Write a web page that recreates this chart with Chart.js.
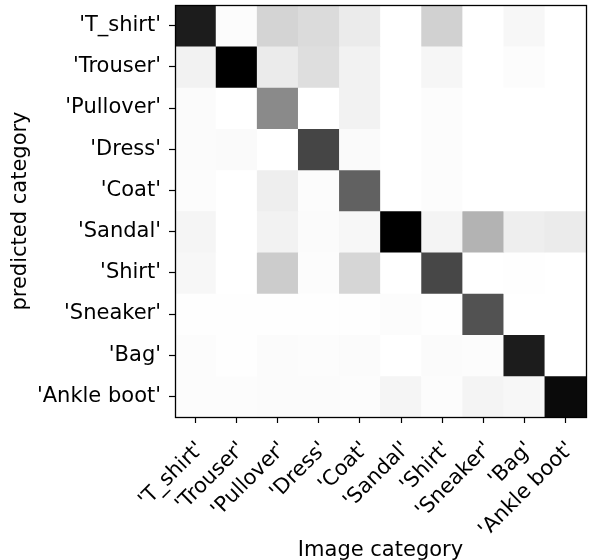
<!DOCTYPE html>
<html>
<head>
<meta charset="utf-8">
<script src="https://cdn.jsdelivr.net/npm/chart.js@4.4.1/dist/chart.umd.min.js"></script>
<style>
  html, body { margin: 0; padding: 0; background: #fff; }
  #wrap { width: 589px; height: 560px; position: relative; }
</style>
</head>
<body>
<div id="wrap"><canvas id="cm"></canvas></div>
<script>
// categories (columns = true image category, rows = predicted category)
const imageCategories = ["'T_shirt'", "'Trouser'", "'Pullover'", "'Dress'", "'Coat'", "'Sandal'", "'Shirt'", "'Sneaker'", "'Bag'", "'Ankle boot'"];
const predictedCategories = ["'T_shirt'", "'Trouser'", "'Pullover'", "'Dress'", "'Coat'", "'Sandal'", "'Shirt'", "'Sneaker'", "'Bag'", "'Ankle boot'"];

// share of each image category landing in the predicted row
const predTshirt   = [0.89, 0.01, 0.17, 0.14, 0.08, 0, 0.18, 0, 0.03, 0];
const predTrouser  = [0.05, 1.0, 0.08, 0.13, 0.05, 0, 0.035, 0, 0.01, 0];
const predPullover = [0.015, 0, 0.46, 0, 0.05, 0, 0.012, 0, 0, 0];
const predDress    = [0.015, 0.02, 0, 0.73, 0.02, 0, 0.01, 0, 0, 0];
const predCoat     = [0.01, 0, 0.067, 0.01, 0.62, 0, 0.01, 0, 0, 0];
const predSandal   = [0.04, 0, 0.05, 0.015, 0.03, 1.0, 0.045, 0.30, 0.067, 0.08];
const predShirt    = [0.03, 0, 0.2, 0.012, 0.16, 0, 0.72, 0, 0.005, 0];
const predSneaker  = [0.003, 0.003, 0.003, 0.003, 0.003, 0.012, 0.005, 0.68, 0, 0];
const predBag      = [0.01, 0.005, 0.015, 0.012, 0.015, 0, 0.015, 0.01, 0.89, 0];
const predBoot     = [0.01, 0.01, 0.015, 0.015, 0.01, 0.04, 0.012, 0.045, 0.03, 0.96];

const rows = [predTshirt, predTrouser, predPullover, predDress, predCoat,
              predSandal, predShirt, predSneaker, predBag, predBoot];

function grey(v) {
  const g = Math.round(255 * (1 - v));
  return 'rgb(' + g + ',' + g + ',' + g + ')';
}

Chart.defaults.font.family = "'DejaVu Sans', sans-serif";
Chart.defaults.font.size = 21;
Chart.defaults.color = '#000';

// each predicted row is one stacked dataset, every cell one unit tall
const datasets = rows.map((row, r) => ({
  label: predictedCategories[r],
  data: row.map(() => 1),
  backgroundColor: row.map(grey),
  borderColor: row.map(grey),
  borderWidth: 0,
  barPercentage: 1,
  categoryPercentage: 1
}));

const frame = {
  id: 'frame',
  afterDatasetsDraw(chart) {
    const a = chart.chartArea;
    const ctx = chart.ctx;
    ctx.save();
    ctx.strokeStyle = '#000';
    ctx.lineWidth = 1.3;
    ctx.strokeRect(Math.round(a.left) + 0.5, Math.round(a.top) + 0.5,
      Math.round(a.right - a.left), Math.round(a.bottom - a.top));
    ctx.restore();
  }
};

new Chart(document.getElementById('cm'), {
  type: 'bar',
  data: { labels: imageCategories, datasets },
  options: {
    responsive: true,
    maintainAspectRatio: false,
    animation: false,
    layout: { padding: { top: 5, right: 3, left: 0, bottom: -3 } },
    plugins: { legend: { display: false }, tooltip: { enabled: false } },
    scales: {
      x: {
        type: 'category',
        stacked: true,
        offset: true,
        border: { display: false },
        grid: { offset: false, drawOnChartArea: false, drawTicks: true, tickLength: 6, tickColor: '#000', tickWidth: 1.2 },
        ticks: { minRotation: 45, maxRotation: 45, autoSkip: false, padding: 14, labelOffset: 5 },
        title: { display: true, text: 'Image category', padding: { top: 0, bottom: 0 } },
        afterFit(scale) {
          scale.height = 146;
          scale.paddingLeft = 0;
          scale.paddingRight = 0;
        }
      },
      y: {
        type: 'linear',
        stacked: true,
        reverse: true,
        min: 0,
        max: 10,
        border: { display: false },
        grid: { drawOnChartArea: false, drawTicks: true, tickLength: 6, tickColor: '#000', tickWidth: 1.2 },
        afterBuildTicks(scale) {
          scale.ticks = predictedCategories.map((_, i) => ({ value: i + 0.5 }));
        },
        ticks: {
          padding: 8,
          callback: (value, index) => predictedCategories[index]
        },
        title: { display: true, text: 'predicted category', padding: { top: 8, bottom: 0 } },
        afterFit(scale) {
          scale.width = 175;
          scale.paddingTop = 0;
          scale.paddingBottom = 0;
        }
      }
    }
  },
  plugins: [frame]
});
</script>
</body>
</html>
